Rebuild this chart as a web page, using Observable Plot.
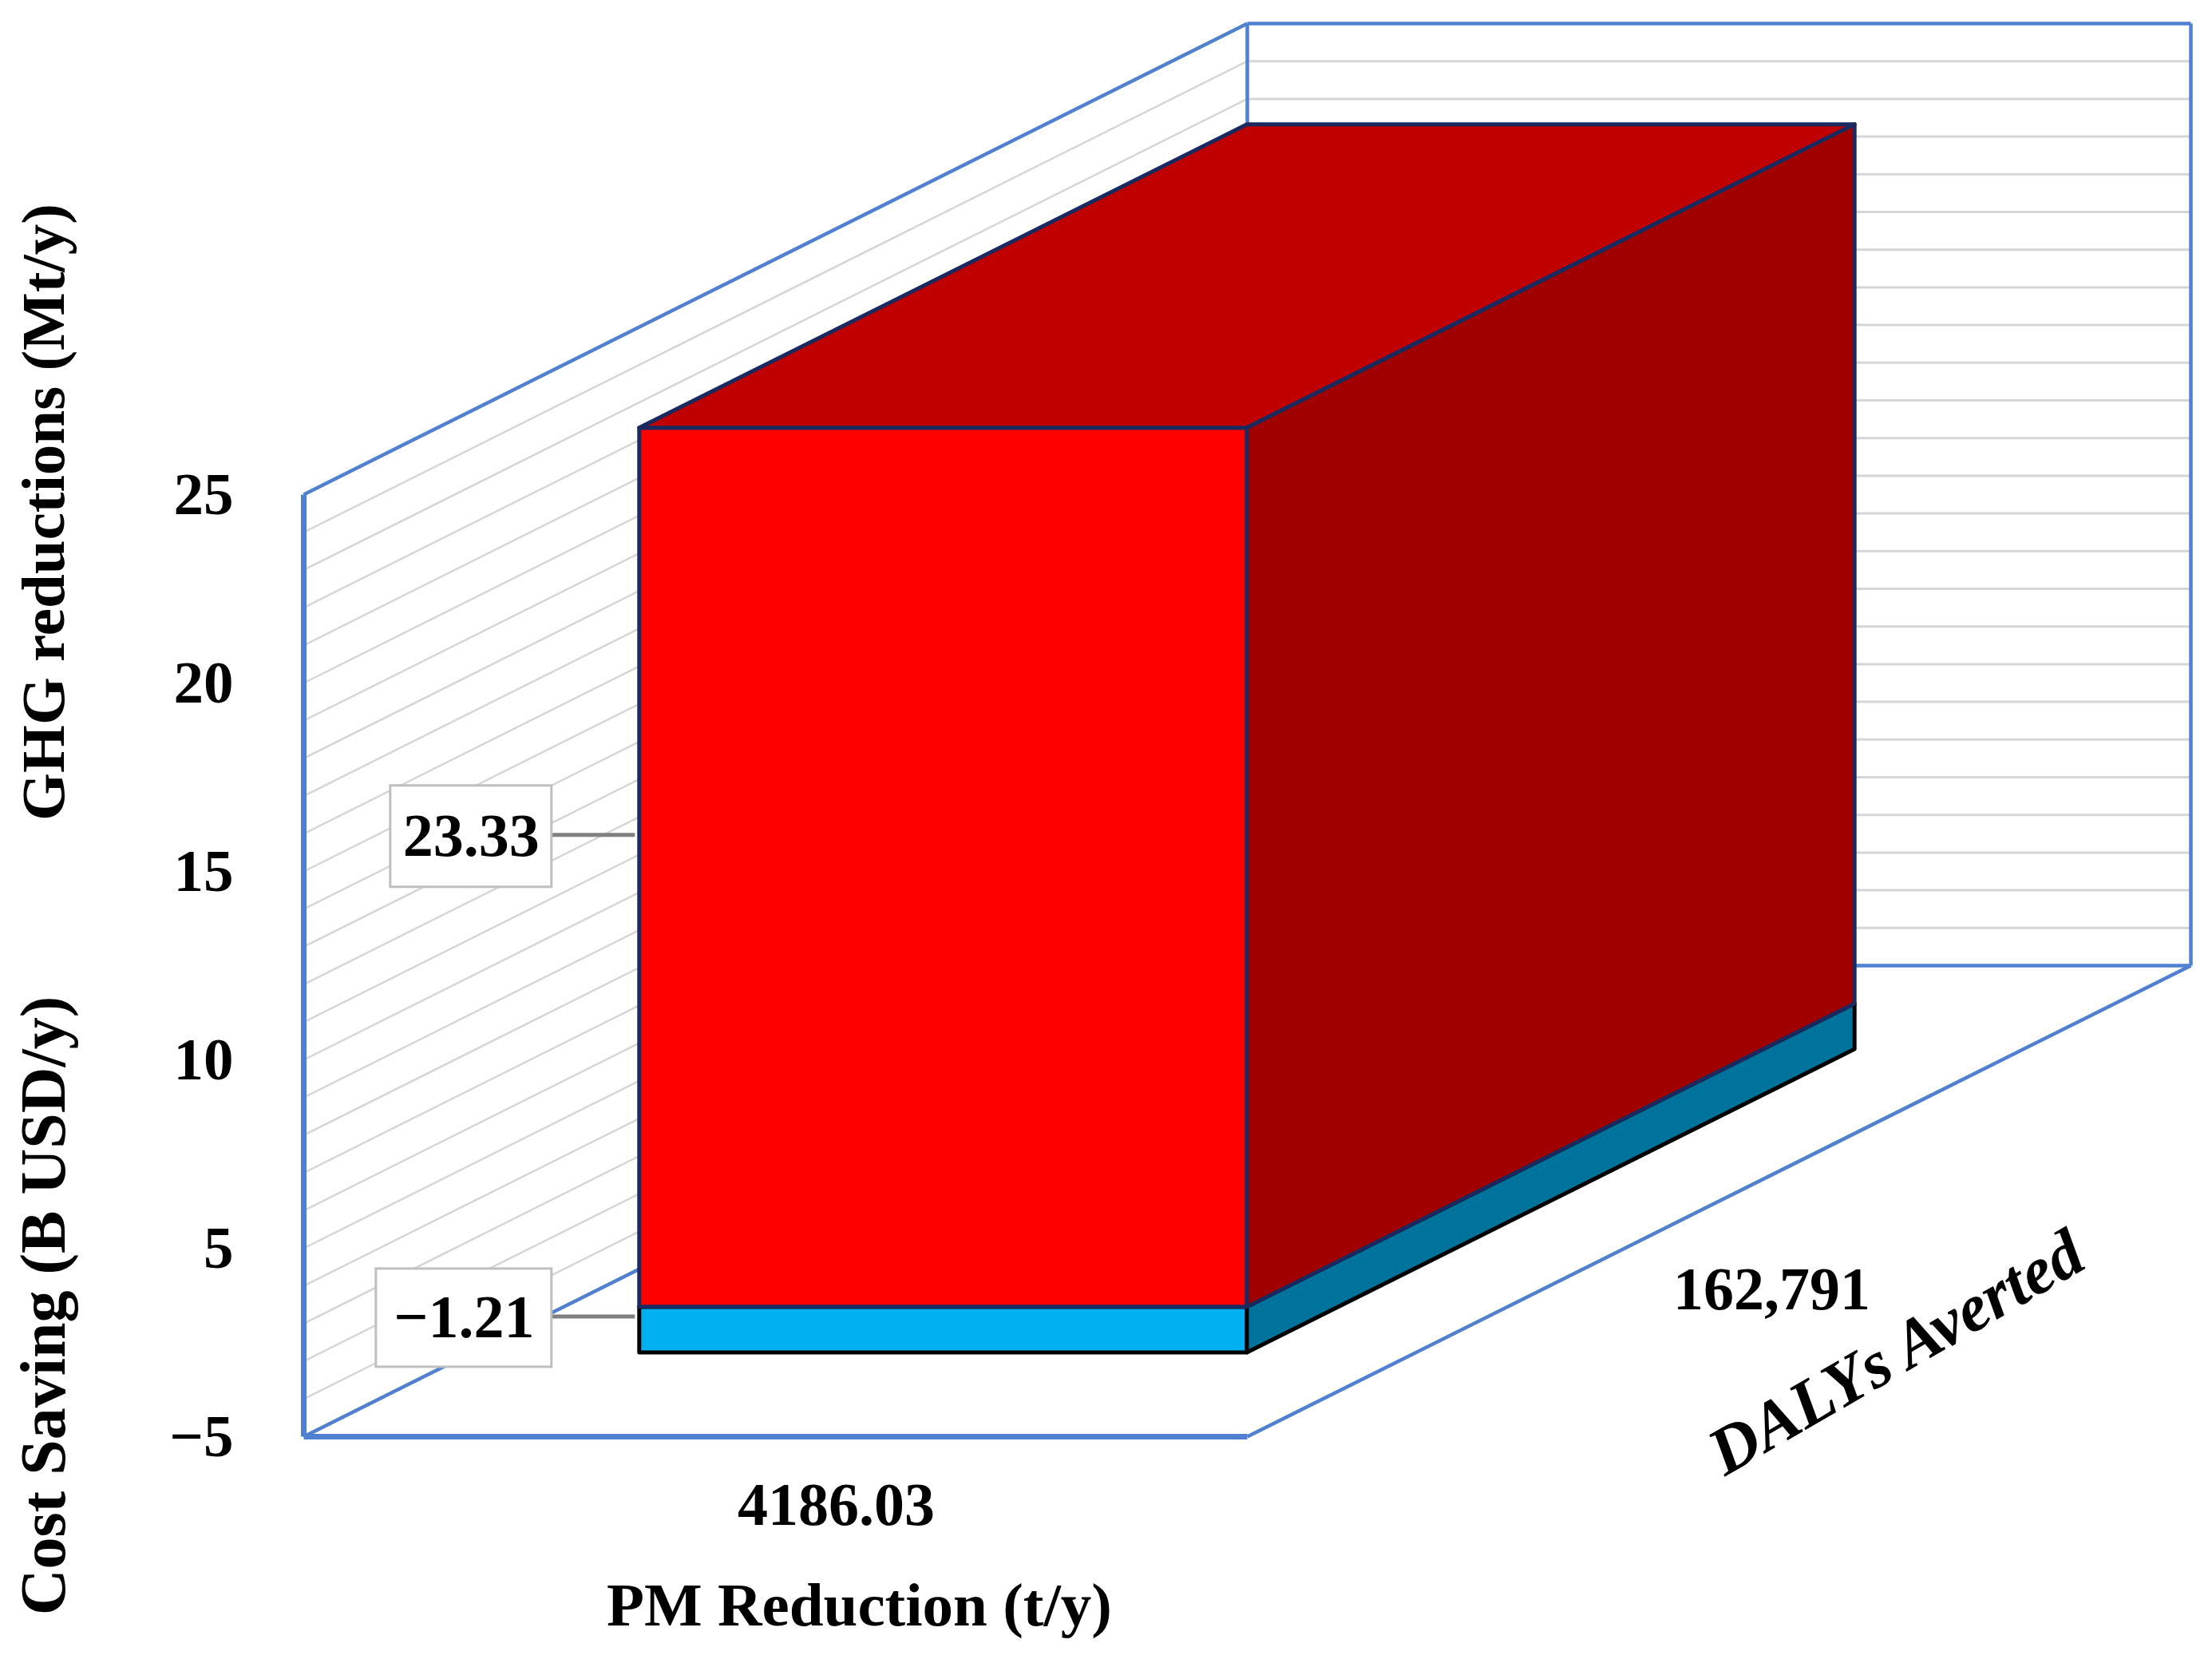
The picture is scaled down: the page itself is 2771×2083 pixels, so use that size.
<!DOCTYPE html>
<html>
<head>
<meta charset="utf-8">
<script src="https://cdn.jsdelivr.net/npm/d3@7"></script>
<script src="https://cdn.jsdelivr.net/npm/@observablehq/plot@0.6"></script>
<style>
  html, body { margin: 0; padding: 0; background: #ffffff; }
  #chart svg { display: block; overflow: visible; }
</style>
</head>
<body>
<div id="chart"></div>
<script>
// ---------------- DATA ----------------
const categories   = ["4186.03"];                       // category (PM reduction) label
const categoryTitle = "PM Reduction (t/y)";
const seriesNames  = ["Cost Saving (B USD/y)", "GHG reductions (Mt/y)"];
const seriesValues = [-1.21, 23.33];
const dataLabels   = ["\u22121.21", "23.33"];
const depthLabels  = ["162,791"];
const depthTitle   = "DALYs Averted";
const yTickValues  = [25, 20, 15, 10, 5, 0];             // units above the floor
const yTickLabels  = ["25", "20", "15", "10", "5", "\u22125"];
const yTitles      = ["GHG reductions (Mt/y)", "Cost Saving (B USD/y)"];

// ---------------- STYLE / LAYOUT ----------------
const W = 2771, H = 2083;
const frameLeft = 380, frameW = 1182, floorPx = 1799, unitPx = 47.2;
const wallUnits = 25;        // wall height in value units
const riseUnits = 12.5;      // a full depth step rises this many value units
const gap = 0.178;           // gap fraction (width and depth) around the bar
const faceColors = [
  {front: "#00b0f0", top: "#0093c8", side: "#00739c", edge: "#000000"},
  {front: "#ff0000", top: "#c00000", side: "#a00000", edge: "#1b2a5e"}
];
const wallBlue = "#4f81d0", gridGray = "#d6d6d6";
const FONT = "'Liberation Serif', 'Times New Roman', serif";
const labelStyle = [ // pixel geometry of data label boxes
  {dy: -15, boxW: 220, boxH: 123, gapPx: 110},
  {dy: -39, boxW: 202, boxH: 127, gapPx: 110}
];

// ---------------- GEOMETRY ----------------
const floorV = Math.min(0, d3.sum(seriesValues.filter(v => v < 0)));
const topV = floorV + wallUnits;
const P = (w, d, v) => ({x: w + d, y: v + d * riseUnits});

// stacking
let posAcc = 0, negAcc = 0;
const segs = seriesValues.map((v, i) => {
  let lo, hi;
  if (v >= 0) { lo = posAcc; hi = posAcc + v; posAcc = hi; }
  else { hi = negAcc; lo = negAcc + v; negAcc = lo; }
  return {i, v, lo, hi, name: seriesNames[i], label: dataLabels[i]};
});

const wL = gap, wR = 1 - gap, dF = gap, dB = 1 - gap;

// walls
const seg = (a, b) => ({x1: a.x, y1: a.y, x2: b.x, y2: b.y});
const gridVals = d3.range(1, wallUnits).map(k => floorV + k);
const backGrid = gridVals.map(v => seg(P(0, 1, v), P(1, 1, v)));
const leftGrid = gridVals.map(v => seg(P(0, 0, v), P(0, 1, v)));
const thinEdges = [
  seg(P(0, 0, topV), P(0, 1, topV)),        // left wall top
  seg(P(0, 1, floorV), P(0, 1, topV)),      // back-left vertical
  seg(P(0, 1, topV), P(1, 1, topV)),        // back wall top
  seg(P(1, 1, floorV), P(1, 1, topV)),      // back-right vertical
  seg(P(0, 1, floorV), P(1, 1, floorV)),    // floor back edge
  seg(P(1, 0, floorV), P(1, 1, floorV)),    // floor right edge
  seg(P(0, 0, floorV), P(0, 1, floorV))     // floor left edge
];
const thickEdges = [
  seg(P(0, 0, floorV), P(0, 0, topV)),      // front-left vertical
  seg(P(0, 0, floorV), P(1, 0, floorV))     // floor front edge
];

const marks = [];
marks.push(Plot.link(backGrid, {x1: "x1", y1: "y1", x2: "x2", y2: "y2", stroke: gridGray, strokeWidth: 3}));
marks.push(Plot.link(leftGrid, {x1: "x1", y1: "y1", x2: "x2", y2: "y2", stroke: gridGray, strokeWidth: 2.5}));
marks.push(Plot.link(thinEdges, {x1: "x1", y1: "y1", x2: "x2", y2: "y2", stroke: wallBlue, strokeWidth: 4.5}));
marks.push(Plot.link(thickEdges, {x1: "x1", y1: "y1", x2: "x2", y2: "y2", stroke: wallBlue, strokeWidth: 7}));

// bar faces
segs.forEach(s => {
  const c = faceColors[s.i];
  const fBot = P(wL, dF, s.lo), fTop = P(wR, dF, s.hi);
  marks.push(Plot.rect([s], {
    x1: () => fBot.x, x2: () => fTop.x, y1: () => fBot.y, y2: () => fTop.y,
    fill: c.front, stroke: c.edge, strokeWidth: 5, strokeLinejoin: "round"
  }));
  const topPts = [dF, dB].map(d => ({y: P(wL, d, s.hi).y, x1: P(wL, d, s.hi).x, x2: P(wR, d, s.hi).x}));
  marks.push(Plot.areaX(topPts, {y: "y", x1: "x1", x2: "x2", fill: c.top, stroke: c.edge, strokeWidth: 5, strokeLinejoin: "round"}));
  const sidePts = [dF, dB].map(d => ({x: P(wR, d, s.lo).x, y1: P(wR, d, s.lo).y, y2: P(wR, d, s.hi).y}));
  marks.push(Plot.areaY(sidePts, {x: "x", y1: "y1", y2: "y2", fill: c.side, stroke: c.edge, strokeWidth: 5, strokeLinejoin: "round"}));
});

// data labels (boxes + leader lines)
const labelRows = segs.map(s => {
  const st = labelStyle[s.i];
  const a = P(wL, dF, (s.lo + s.hi) / 2);
  const cy = a.y - st.dy / unitPx;
  const xRight = a.x - st.gapPx / frameW;
  const xLeft = xRight - st.boxW / frameW;
  return {
    label: s.label, cx: (xLeft + xRight) / 2, cy,
    x1: xLeft, x2: xRight, y1: cy - st.boxH / 2 / unitPx, y2: cy + st.boxH / 2 / unitPx,
    lx1: xRight, lx2: a.x - 6 / frameW, ly: cy + 2 / unitPx
  };
});
marks.push(Plot.link(labelRows, {x1: "lx1", x2: "lx2", y1: "ly", y2: "ly", stroke: "#808080", strokeWidth: 5}));
marks.push(Plot.rect(labelRows, {x1: "x1", x2: "x2", y1: "y1", y2: "y2", fill: "#ffffff", stroke: "#bfbfbf", strokeWidth: 3}));
marks.push(Plot.text(labelRows, {x: "cx", y: "cy", text: "label", fontSize: 76, fontWeight: "bold", fill: "#000", fontFamily: FONT, lineAnchor: "middle"}));

// value axis tick labels (front-left edge)
const ticks = yTickValues.map((t, i) => ({t, label: yTickLabels[i]}));
marks.push(Plot.text(ticks, {x: () => 0, y: d => floorV + d.t, text: "label", textAnchor: "end", dx: -88, fontSize: 75, fontWeight: "bold", fontFamily: FONT, fill: "#000"}));

// category label + title (front floor edge)
marks.push(Plot.text(categories, {x: () => P(0.5, 0, floorV).x, y: () => floorV, text: d => d, dx: 76, dy: 86, fontSize: 76, fontWeight: "bold", fontFamily: FONT, fill: "#000"}));
marks.push(Plot.text([categoryTitle], {x: () => P(0.5, 0, floorV).x, y: () => floorV, text: d => d, dx: 105, dy: 212, fontSize: 77, fontWeight: "bold", fontFamily: FONT, fill: "#000"}));

// depth label + title (right floor edge)
marks.push(Plot.text(depthLabels, {x: () => P(1, 0.5, floorV).x, y: () => P(1, 0.5, floorV).y, text: d => d, dx: 66, dy: 111, fontSize: 76, fontWeight: "bold", fontFamily: FONT, fill: "#000"}));
marks.push(Plot.text([depthTitle], {x: () => P(1, 0.5, floorV).x, y: () => P(1, 0.5, floorV).y, text: d => d, dx: 222, dy: 190, rotate: -30, fontSize: 84, fontWeight: "bold", fontStyle: "italic", fontFamily: FONT, fill: "#000"}));

// value axis titles (rotated)
marks.push(Plot.text([yTitles[0]], {frameAnchor: "top-left", dx: 55, dy: 641, text: d => d, textAnchor: "middle", lineAnchor: "middle", rotate: -90, fontSize: 77, fontWeight: "bold", fontFamily: FONT, fill: "#000"}));
marks.push(Plot.text([yTitles[1]], {frameAnchor: "top-left", dx: 55, dy: 1635, text: d => d, textAnchor: "middle", lineAnchor: "middle", rotate: -90, fontSize: 80, fontWeight: "bold", fontFamily: FONT, fill: "#000"}));

const yHi = floorV + wallUnits + riseUnits;
const chart = Plot.plot({
  width: W, height: H,
  margin: 0,
  style: {background: "#ffffff", fontFamily: FONT, overflow: "visible"},
  x: {type: "linear", domain: [0, 2], range: [frameLeft, frameLeft + 2 * frameW], axis: null},
  y: {type: "linear", domain: [floorV, yHi], range: [floorPx, floorPx - (yHi - floorV) * unitPx], axis: null},
  marks
});
document.getElementById("chart").appendChild(chart);
</script>
</body>
</html>
